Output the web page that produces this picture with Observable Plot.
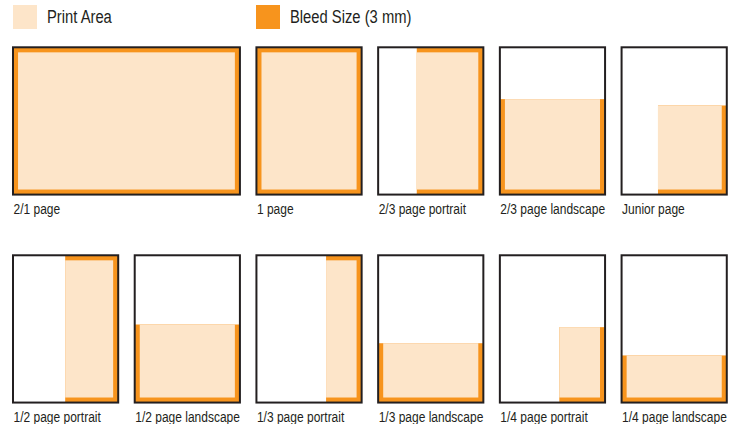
<!DOCTYPE html>
<html>
<head>
<meta charset="utf-8">
<script src="https://cdn.jsdelivr.net/npm/d3@7"></script>
<script src="https://cdn.jsdelivr.net/npm/@observablehq/plot@0.6"></script>
<style>
  html, body { margin: 0; padding: 0; background: #fff; }
  body { width: 736px; height: 424px; overflow: hidden; font-family: "Liberation Sans", Arial, sans-serif; color: #231f20; }
  #legend { position: relative; height: 36px; }
  .sw { position: absolute; top: 5px; width: 24px; height: 24px; }
  .lt { position: absolute; top: 6px; font-size: 18px; line-height: 22px; white-space: nowrap; transform: scaleX(0.82); transform-origin: 0 50%; }
  #chart svg { display: block; }
</style>
</head>
<body>
<div id="legend"></div>
<div id="chart"></div>
<script>
// ---- data ----
const names = ["2/1 page", "1 page", "2/3 page portrait", "2/3 page landscape", "Junior page",
  "1/2 page portrait", "1/2 page landscape", "1/3 page portrait", "1/3 page landscape",
  "1/4 page portrait", "1/4 page landscape"];
const cols = [0, 2, 3, 4, 5, 0, 1, 2, 3, 4, 5];
const rows = [0, 0, 0, 0, 0, 1, 1, 1, 1, 1, 1];
const spans = [2, 1, 1, 1, 1, 1, 1, 1, 1, 1, 1];
// ad size as fraction of the page (width from right edge, height from bottom edge)
const adWidth = [1, 1, 0.633, 1, 0.654, 0.504, 1, 0.338, 1, 0.435, 1];
const adHeight = [1, 1, 1, 0.648, 0.605, 1, 0.53, 1, 0.403, 0.512, 0.32];
const legendLabels = ["Print Area", "Bleed Size (3 mm)"];

// ---- layout constants (page units: page width = 1) ----
const STEP = 1.157, ROW_STEP = 1.977, PAGE_H = 1.4, BLEED = 0.048, PX = 105.2;
const ORANGE = "#f7941d", PEACH = "#fde5c9", INK = "#231f20";
const NARROW = 0.8;

const pages = names.map((name, i) => {
  const x1 = cols[i] * STEP;
  const x2 = x1 + spans[i] * STEP - (STEP - 1);
  const y1 = rows[i] * ROW_STEP;
  const y2 = y1 + PAGE_H;
  return {name, x1, x2, y1, y2, aw: adWidth[i], ah: adHeight[i]};
});
const bleed = pages.map(p => ({
  x1: p.x2 - p.aw * (p.x2 - p.x1), x2: p.x2,
  y1: p.y2 - p.ah * PAGE_H, y2: p.y2, aw: p.aw, ah: p.ah
}));
const print = bleed.map(b => ({
  x1: b.x1 + (b.aw === 1 ? BLEED : 0), x2: b.x2 - BLEED,
  y1: b.y1 + (b.ah === 1 ? BLEED : 0), y2: b.y2 - BLEED
}));

// ---- legend ----
const legend = document.getElementById("legend");
const legendColors = [PEACH, ORANGE];
const legendX = [13, 256];
legendLabels.forEach((t, i) => {
  const s = document.createElement("div");
  s.className = "sw"; s.style.left = legendX[i] + "px"; s.style.background = legendColors[i];
  const l = document.createElement("div");
  l.className = "lt"; l.style.left = (legendX[i] + 34) + "px"; l.textContent = t;
  legend.append(s, l);
});

// ---- chart ----
const xMax = 5 * STEP + 1, yMax = ROW_STEP + PAGE_H;
const x0 = 13, y0 = 11.3;
const chart = Plot.plot({
  width: 736,
  height: 388,
  margin: 0,
  x: {domain: [0, xMax], range: [x0, x0 + xMax * PX], axis: null},
  y: {domain: [0, yMax], range: [y0, y0 + yMax * PX], axis: null},
  style: {fontFamily: "'Liberation Sans', Arial, sans-serif", background: "white"},
  marks: [
    Plot.rect(pages, {x1: "x1", x2: "x2", y1: "y1", y2: "y2", fill: "white"}),
    Plot.rect(bleed, {x1: "x1", x2: "x2", y1: "y1", y2: "y2", fill: ORANGE}),
    Plot.rect(print, {x1: "x1", x2: "x2", y1: "y1", y2: "y2", fill: PEACH}),
    Plot.rect(pages, {x1: "x1", x2: "x2", y1: "y1", y2: "y2", fill: "none", stroke: INK, strokeWidth: 2}),
    Plot.text(pages, {x: "x1", y: "y2", text: "name", textAnchor: "start", lineAnchor: "middle", dy: 14, fontSize: 15, fill: INK})
  ]
});
// condensed look: compress the labels horizontally around their anchor
d3.select(chart).selectAll("text").each(function() {
  const t = this.getAttribute("transform");
  if (t) {
    this.setAttribute("transform", t + ` scale(${NARROW},1)`);
  } else {
    const x = +this.getAttribute("x") || 0, y = +this.getAttribute("y") || 0;
    this.removeAttribute("x"); this.removeAttribute("y");
    this.setAttribute("transform", `translate(${x},${y}) scale(${NARROW},1)`);
  }
});
document.getElementById("chart").append(chart);
</script>
</body>
</html>
